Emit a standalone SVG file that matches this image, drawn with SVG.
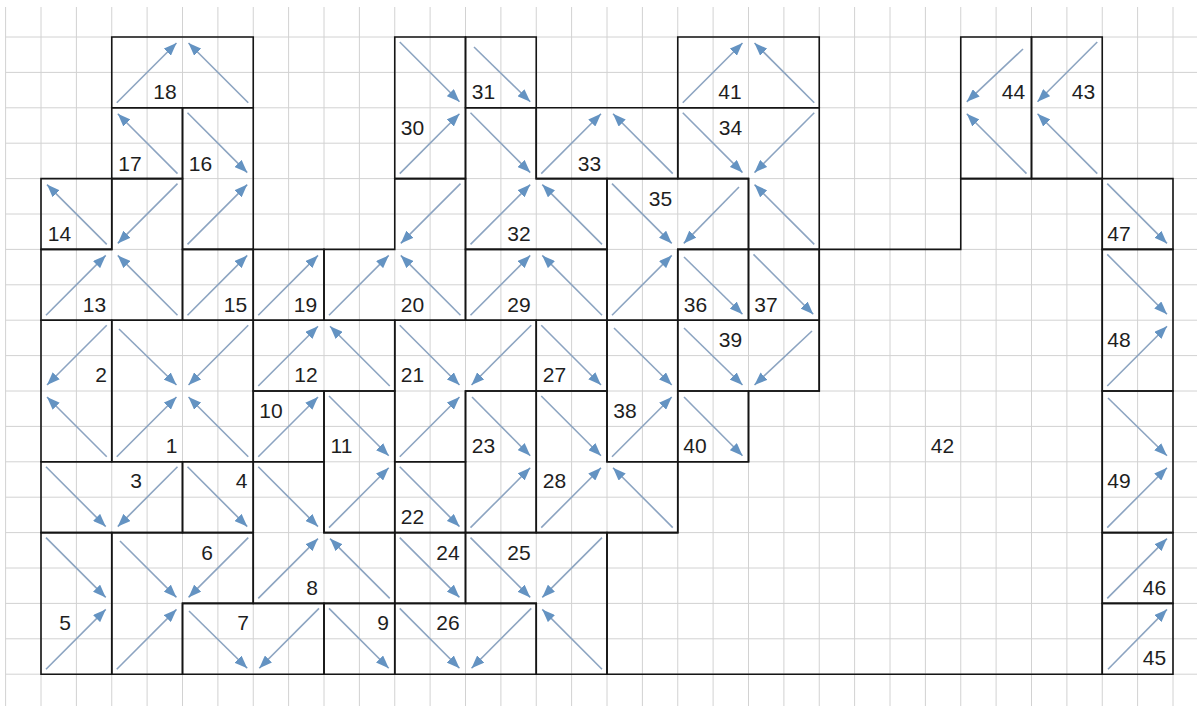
<svg xmlns="http://www.w3.org/2000/svg" width="1197" height="706" viewBox="0 0 1197 706">
<style>
.grid{stroke:#d2d2d2;stroke-width:1;fill:none}
.box{fill:none;stroke:#151515;stroke-width:1.6;stroke-linejoin:miter}
.lbl{font-family:"Liberation Sans",Arial,sans-serif;font-size:21px;fill:#1e1e1e;text-anchor:middle}
.a{stroke:#8ca4c1;stroke-width:1.6;marker-end:url(#ah)}
</style>
<defs>
<marker id="ah" viewBox="0 0 13 10" refX="13" refY="5" markerWidth="13" markerHeight="10" markerUnits="userSpaceOnUse" orient="auto"><path d="M0,0 L13,5 L0,10 z" fill="#6493c2"/></marker>
</defs>
<rect width="1197" height="706" fill="#fff"/>
<path class="grid" d="M5.6 7V706M41 7V706M76.4 7V706M111.75 7V706M147.1 7V706M182.5 7V706M217.9 7V706M253.25 7V706M288.6 7V706M324 7V706M359.4 7V706M394.75 7V706M430.1 7V706M465.5 7V706M500.9 7V706M536.25 7V706M571.6 7V706M607 7V706M642.4 7V706M677.75 7V706M713.1 7V706M748.5 7V706M783.9 7V706M819.25 7V706M854.6 7V706M890 7V706M925.4 7V706M960.75 7V706M996.1 7V706M1031.5 7V706M1066.9 7V706M1102.25 7V706M1137.6 7V706M1173 7V706M5.6 37H1197M5.6 72.4H1197M5.6 107.8H1197M5.6 143.2H1197M5.6 178.6H1197M5.6 214H1197M5.6 249.4H1197M5.6 284.8H1197M5.6 320.2H1197M5.6 355.6H1197M5.6 391H1197M5.6 426.4H1197M5.6 461.8H1197M5.6 497.2H1197M5.6 532.6H1197M5.6 568H1197M5.6 603.4H1197M5.6 638.8H1197M5.6 674.2H1197"/>
<g id="n42"><polygon class="box" points="607,674.2 1102.25,674.2 1102.25,178.6 960.75,178.6 960.75,249.4 819.25,249.4 819.25,391 748.5,391 748.5,461.8 677.75,461.8 677.75,532.6 607,532.6"/><text class="lbl" x="942.5" y="453">42</text></g>
<g id="n18"><polygon class="box" points="111.75,37 253.25,37 253.25,107.8 111.75,107.8"/><text class="lbl" x="165" y="99">18</text></g>
<g id="n17"><polygon class="box" points="111.75,107.8 182.5,107.8 182.5,178.6 111.75,178.6"/><text class="lbl" x="130" y="171">17</text></g>
<g id="n16"><polygon class="box" points="182.5,107.8 253.25,107.8 253.25,249.4 182.5,249.4"/><text class="lbl" x="200.5" y="171">16</text></g>
<g id="n14"><polygon class="box" points="41,178.6 111.75,178.6 111.75,249.4 41,249.4"/><text class="lbl" x="59.5" y="241">14</text></g>
<g id="n13"><polygon class="box" points="111.75,178.6 182.5,178.6 182.5,320.2 41,320.2 41,249.4 111.75,249.4"/><text class="lbl" x="94.5" y="312">13</text></g>
<g id="n15"><polygon class="box" points="182.5,249.4 253.25,249.4 253.25,320.2 182.5,320.2"/><text class="lbl" x="235.5" y="312">15</text></g>
<g id="n19"><polygon class="box" points="253.25,249.4 324,249.4 324,320.2 253.25,320.2"/><text class="lbl" x="305.5" y="312">19</text></g>
<g id="n20"><polygon class="box" points="394.75,178.6 465.5,178.6 465.5,320.2 324,320.2 324,249.4 394.75,249.4"/><text class="lbl" x="412.5" y="312">20</text></g>
<g id="n30"><polygon class="box" points="394.75,37 465.5,37 465.5,178.6 394.75,178.6"/><text class="lbl" x="412.5" y="135">30</text></g>
<g id="n31"><polygon class="box" points="465.5,37 536.25,37 536.25,107.8 465.5,107.8"/><text class="lbl" x="483.5" y="99">31</text></g>
<g id="n32"><polygon class="box" points="465.5,107.8 536.25,107.8 536.25,178.6 607,178.6 607,249.4 465.5,249.4"/><text class="lbl" x="519" y="241">32</text></g>
<g id="n33"><polygon class="box" points="536.25,107.8 677.75,107.8 677.75,178.6 536.25,178.6"/><text class="lbl" x="589.5" y="171">33</text></g>
<g id="n41"><polygon class="box" points="677.75,37 819.25,37 819.25,107.8 677.75,107.8"/><text class="lbl" x="730" y="99">41</text></g>
<g id="n34"><polygon class="box" points="677.75,107.8 819.25,107.8 819.25,249.4 748.5,249.4 748.5,178.6 677.75,178.6"/><text class="lbl" x="730.5" y="135">34</text></g>
<g id="n35"><polygon class="box" points="607,178.6 748.5,178.6 748.5,249.4 677.75,249.4 677.75,320.2 607,320.2"/><text class="lbl" x="660.5" y="206">35</text></g>
<g id="n29"><polygon class="box" points="465.5,249.4 607,249.4 607,320.2 465.5,320.2"/><text class="lbl" x="519" y="312">29</text></g>
<g id="n36"><polygon class="box" points="677.75,249.4 748.5,249.4 748.5,320.2 677.75,320.2"/><text class="lbl" x="695.5" y="312">36</text></g>
<g id="n37"><polygon class="box" points="748.5,249.4 819.25,249.4 819.25,320.2 748.5,320.2"/><text class="lbl" x="766" y="312">37</text></g>
<g id="n39"><polygon class="box" points="677.75,320.2 819.25,320.2 819.25,391 677.75,391"/><text class="lbl" x="730.5" y="347">39</text></g>
<g id="n40"><polygon class="box" points="677.75,391 748.5,391 748.5,461.8 677.75,461.8"/><text class="lbl" x="695" y="453">40</text></g>
<g id="n38"><polygon class="box" points="607,320.2 677.75,320.2 677.75,461.8 607,461.8"/><text class="lbl" x="625" y="418">38</text></g>
<g id="n27"><polygon class="box" points="536.25,320.2 607,320.2 607,391 536.25,391"/><text class="lbl" x="554.5" y="382">27</text></g>
<g id="n21"><polygon class="box" points="394.75,320.2 536.25,320.2 536.25,391 465.5,391 465.5,461.8 394.75,461.8"/><text class="lbl" x="412.5" y="382">21</text></g>
<g id="n23"><polygon class="box" points="465.5,391 536.25,391 536.25,532.6 465.5,532.6"/><text class="lbl" x="483.5" y="453">23</text></g>
<g id="n28"><polygon class="box" points="536.25,391 607,391 607,461.8 677.75,461.8 677.75,532.6 536.25,532.6"/><text class="lbl" x="554.5" y="488">28</text></g>
<g id="n22"><polygon class="box" points="394.75,461.8 465.5,461.8 465.5,532.6 394.75,532.6"/><text class="lbl" x="412.5" y="524">22</text></g>
<g id="n24"><polygon class="box" points="394.75,532.6 465.5,532.6 465.5,603.4 394.75,603.4"/><text class="lbl" x="448" y="560">24</text></g>
<g id="n25"><polygon class="box" points="465.5,532.6 607,532.6 607,674.2 536.25,674.2 536.25,603.4 465.5,603.4"/><text class="lbl" x="519" y="560">25</text></g>
<g id="n26"><polygon class="box" points="394.75,603.4 536.25,603.4 536.25,674.2 394.75,674.2"/><text class="lbl" x="448" y="630">26</text></g>
<g id="n2"><polygon class="box" points="41,320.2 111.75,320.2 111.75,461.8 41,461.8"/><text class="lbl" x="101" y="382">2</text></g>
<g id="n1"><polygon class="box" points="111.75,320.2 253.25,320.2 253.25,461.8 111.75,461.8"/><text class="lbl" x="171.5" y="453">1</text></g>
<g id="n12"><polygon class="box" points="253.25,320.2 394.75,320.2 394.75,391 253.25,391"/><text class="lbl" x="306" y="382">12</text></g>
<g id="n10"><polygon class="box" points="253.25,391 324,391 324,461.8 253.25,461.8"/><text class="lbl" x="271" y="418">10</text></g>
<g id="n11"><polygon class="box" points="324,391 394.75,391 394.75,532.6 324,532.6"/><text class="lbl" x="341.5" y="453">11</text></g>
<g id="n3"><polygon class="box" points="41,461.8 182.5,461.8 182.5,532.6 41,532.6"/><text class="lbl" x="136" y="488">3</text></g>
<g id="n4"><polygon class="box" points="182.5,461.8 253.25,461.8 253.25,532.6 182.5,532.6"/><text class="lbl" x="241.5" y="488">4</text></g>
<g id="n8"><polygon class="box" points="253.25,461.8 324,461.8 324,532.6 394.75,532.6 394.75,603.4 253.25,603.4"/><text class="lbl" x="312" y="595">8</text></g>
<g id="n5"><polygon class="box" points="41,532.6 111.75,532.6 111.75,674.2 41,674.2"/><text class="lbl" x="65" y="630">5</text></g>
<g id="n6"><polygon class="box" points="111.75,532.6 253.25,532.6 253.25,603.4 182.5,603.4 182.5,674.2 111.75,674.2"/><text class="lbl" x="207" y="560">6</text></g>
<g id="n7"><polygon class="box" points="182.5,603.4 324,603.4 324,674.2 182.5,674.2"/><text class="lbl" x="243" y="630">7</text></g>
<g id="n9"><polygon class="box" points="324,603.4 394.75,603.4 394.75,674.2 324,674.2"/><text class="lbl" x="383" y="630">9</text></g>
<g id="n44"><polygon class="box" points="960.75,37 1031.5,37 1031.5,178.6 960.75,178.6"/><text class="lbl" x="1013.5" y="99">44</text></g>
<g id="n43"><polygon class="box" points="1031.5,37 1102.25,37 1102.25,178.6 1031.5,178.6"/><text class="lbl" x="1083.5" y="99">43</text></g>
<g id="n47"><polygon class="box" points="1102.25,178.6 1173,178.6 1173,249.4 1102.25,249.4"/><text class="lbl" x="1119" y="241">47</text></g>
<g id="n48"><polygon class="box" points="1102.25,249.4 1173,249.4 1173,391 1102.25,391"/><text class="lbl" x="1119" y="347">48</text></g>
<g id="n49"><polygon class="box" points="1102.25,391 1173,391 1173,532.6 1102.25,532.6"/><text class="lbl" x="1119" y="488">49</text></g>
<g id="n46"><polygon class="box" points="1102.25,532.6 1173,532.6 1173,603.4 1102.25,603.4"/><text class="lbl" x="1154.5" y="595">46</text></g>
<g id="n45"><polygon class="box" points="1102.25,603.4 1173,603.4 1173,674.2 1102.25,674.2"/><text class="lbl" x="1154.5" y="665">45</text></g>
<g id="connectors">
<line class="a" x1="116.75" y1="102.8" x2="176.5" y2="43"/>
<line class="a" x1="248.25" y1="102.8" x2="188.5" y2="43"/>
<line class="a" x1="399.75" y1="42" x2="459.5" y2="101.8"/>
<line class="a" x1="474" y1="47" x2="530.25" y2="101.8"/>
<line class="a" x1="682.75" y1="102.8" x2="742.5" y2="43"/>
<line class="a" x1="814.25" y1="102.8" x2="754.5" y2="43"/>
<line class="a" x1="1023" y1="49" x2="966.75" y2="101.8"/>
<line class="a" x1="1097.25" y1="42" x2="1037.5" y2="101.8"/>
<line class="a" x1="177.5" y1="173.6" x2="117.75" y2="113.8"/>
<line class="a" x1="187.5" y1="112.8" x2="247.25" y2="172.6"/>
<line class="a" x1="399.75" y1="173.6" x2="459.5" y2="113.8"/>
<line class="a" x1="470.5" y1="112.8" x2="530.25" y2="172.6"/>
<line class="a" x1="541.25" y1="173.6" x2="601" y2="113.8"/>
<line class="a" x1="672.75" y1="173.6" x2="613" y2="113.8"/>
<line class="a" x1="682.75" y1="112.8" x2="742.5" y2="172.6"/>
<line class="a" x1="814.25" y1="112.8" x2="754.5" y2="172.6"/>
<line class="a" x1="1026.5" y1="173.6" x2="966.75" y2="113.8"/>
<line class="a" x1="1097.25" y1="173.6" x2="1037.5" y2="113.8"/>
<line class="a" x1="106.75" y1="244.4" x2="47" y2="184.6"/>
<line class="a" x1="177.5" y1="183.6" x2="117.75" y2="243.4"/>
<line class="a" x1="187.5" y1="244.4" x2="247.25" y2="184.6"/>
<line class="a" x1="460.5" y1="183.6" x2="400.75" y2="243.4"/>
<line class="a" x1="470.5" y1="244.4" x2="530.25" y2="184.6"/>
<line class="a" x1="602" y1="244.4" x2="542.25" y2="184.6"/>
<line class="a" x1="612" y1="183.6" x2="671.75" y2="243.4"/>
<line class="a" x1="739" y1="187" x2="683.75" y2="243.4"/>
<line class="a" x1="814.25" y1="244.4" x2="754.5" y2="184.6"/>
<line class="a" x1="1107.25" y1="183.6" x2="1167" y2="243.4"/>
<line class="a" x1="46" y1="315.2" x2="105.75" y2="255.4"/>
<line class="a" x1="177.5" y1="315.2" x2="117.75" y2="255.4"/>
<line class="a" x1="187.5" y1="315.2" x2="247.25" y2="255.4"/>
<line class="a" x1="258.25" y1="315.2" x2="318" y2="255.4"/>
<line class="a" x1="329" y1="315.2" x2="388.75" y2="255.4"/>
<line class="a" x1="460.5" y1="315.2" x2="400.75" y2="255.4"/>
<line class="a" x1="470.5" y1="315.2" x2="530.25" y2="255.4"/>
<line class="a" x1="602" y1="315.2" x2="542.25" y2="255.4"/>
<line class="a" x1="612" y1="315.2" x2="671.75" y2="255.4"/>
<line class="a" x1="684" y1="257" x2="742.5" y2="314.2"/>
<line class="a" x1="753.5" y1="254.4" x2="813.25" y2="314.2"/>
<line class="a" x1="1107.25" y1="254.4" x2="1167" y2="314.2"/>
<line class="a" x1="106.75" y1="325.2" x2="47" y2="385"/>
<line class="a" x1="119" y1="329" x2="176.5" y2="385"/>
<line class="a" x1="248.25" y1="325.2" x2="188.5" y2="385"/>
<line class="a" x1="258.25" y1="386" x2="318" y2="326.2"/>
<line class="a" x1="389.75" y1="386" x2="330" y2="326.2"/>
<line class="a" x1="399.75" y1="325.2" x2="459.5" y2="385"/>
<line class="a" x1="531.25" y1="325.2" x2="471.5" y2="385"/>
<line class="a" x1="541.25" y1="325.2" x2="601" y2="385"/>
<line class="a" x1="614" y1="328" x2="671.75" y2="385"/>
<line class="a" x1="684" y1="328" x2="742.5" y2="385"/>
<line class="a" x1="812" y1="331" x2="754.5" y2="385"/>
<line class="a" x1="1107.25" y1="386" x2="1167" y2="326.2"/>
<line class="a" x1="106.75" y1="456.8" x2="47" y2="397"/>
<line class="a" x1="116.75" y1="456.8" x2="176.5" y2="397"/>
<line class="a" x1="248.25" y1="456.8" x2="188.5" y2="397"/>
<line class="a" x1="258.25" y1="456.8" x2="318" y2="397"/>
<line class="a" x1="329" y1="396" x2="388.75" y2="455.8"/>
<line class="a" x1="399.75" y1="456.8" x2="459.5" y2="397"/>
<line class="a" x1="472" y1="397" x2="530.25" y2="455.8"/>
<line class="a" x1="541.25" y1="396" x2="601" y2="455.8"/>
<line class="a" x1="612" y1="456.8" x2="671.75" y2="397"/>
<line class="a" x1="684" y1="397" x2="742.5" y2="455.8"/>
<line class="a" x1="1108" y1="398" x2="1167" y2="455.8"/>
<line class="a" x1="46" y1="466.8" x2="105.75" y2="526.6"/>
<line class="a" x1="177.5" y1="466.8" x2="117.75" y2="526.6"/>
<line class="a" x1="187.5" y1="466.8" x2="247.25" y2="526.6"/>
<line class="a" x1="258.25" y1="466.8" x2="318" y2="526.6"/>
<line class="a" x1="329" y1="527.6" x2="388.75" y2="467.8"/>
<line class="a" x1="399.75" y1="466.8" x2="459.5" y2="526.6"/>
<line class="a" x1="470.5" y1="527.6" x2="530.25" y2="467.8"/>
<line class="a" x1="541.25" y1="527.6" x2="601" y2="467.8"/>
<line class="a" x1="672.75" y1="527.6" x2="613" y2="467.8"/>
<line class="a" x1="1107.25" y1="527.6" x2="1167" y2="467.8"/>
<line class="a" x1="46" y1="537.6" x2="105.75" y2="597.4"/>
<line class="a" x1="120" y1="541" x2="176.5" y2="597.4"/>
<line class="a" x1="248.25" y1="537.6" x2="188.5" y2="597.4"/>
<line class="a" x1="258.25" y1="598.4" x2="318" y2="538.6"/>
<line class="a" x1="389.75" y1="598.4" x2="330" y2="538.6"/>
<line class="a" x1="399.75" y1="537.6" x2="459.5" y2="597.4"/>
<line class="a" x1="470.5" y1="537.6" x2="530.25" y2="597.4"/>
<line class="a" x1="602" y1="537.6" x2="542.25" y2="597.4"/>
<line class="a" x1="1107.25" y1="598.4" x2="1167" y2="538.6"/>
<line class="a" x1="46" y1="669.2" x2="105.75" y2="609.4"/>
<line class="a" x1="116.75" y1="669.2" x2="176.5" y2="609.4"/>
<line class="a" x1="189" y1="611" x2="247.25" y2="668.2"/>
<line class="a" x1="319" y1="608.4" x2="259.25" y2="668.2"/>
<line class="a" x1="329" y1="608.4" x2="388.75" y2="668.2"/>
<line class="a" x1="399.75" y1="608.4" x2="459.5" y2="668.2"/>
<line class="a" x1="531.25" y1="608.4" x2="471.5" y2="668.2"/>
<line class="a" x1="602" y1="669.2" x2="542.25" y2="609.4"/>
<line class="a" x1="1108" y1="669.2" x2="1167" y2="609.4"/>
</g>
</svg>
